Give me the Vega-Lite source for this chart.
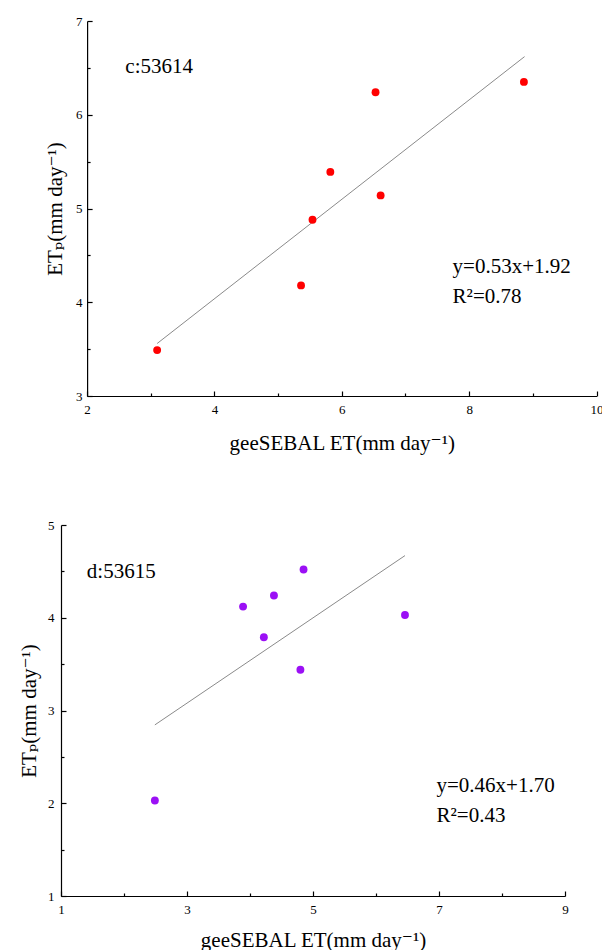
{
  "$schema": "https://vega.github.io/schema/vega-lite/v6.json",
  "padding": {"left": 18, "top": 15, "right": 0, "bottom": 0},
  "background": "white",
  "spacing": 66,
  "config": {
    "view": {"stroke": null},
    "font": "Liberation Serif, Times New Roman, DejaVu Serif, serif",
    "text": {"font": "Liberation Serif, Times New Roman, DejaVu Serif, serif"},
    "axis": {
      "grid": false,
      "domainColor": "#000000",
      "domainWidth": 1.2,
      "tickColor": "#000000",
      "tickWidth": 1.2,
      "labelFont": "Liberation Serif, Times New Roman, DejaVu Serif, serif",
      "labelFontSize": 13,
      "labelColor": "#000000",
      "labelOverlap": false,
      "labelFlush": false,
      "titleFont": "Liberation Serif, Times New Roman, DejaVu Serif, serif",
      "titleFontSize": 21,
      "titleFontWeight": "normal",
      "titleColor": "#000000"
    }
  },
  "datasets": {
    "pts_c": [
      {"x": 3.10, "y": 3.49},
      {"x": 5.36, "y": 4.18},
      {"x": 5.54, "y": 4.88},
      {"x": 5.82, "y": 5.39},
      {"x": 6.61, "y": 5.14},
      {"x": 6.53, "y": 6.24},
      {"x": 8.86, "y": 6.35}
    ],
    "fit_c": [
      {"x": 3.10, "y": 3.56},
      {"x": 8.87, "y": 6.62}
    ],
    "lbl_c": [
      {"x": 2.60, "y": 6.51, "t": "c:53614"},
      {"x": 7.74, "y": 4.38, "t": "y=0.53x+1.92"},
      {"x": 7.74, "y": 4.06, "t": "R²=0.78"}
    ],
    "pts_d": [
      {"x": 2.49, "y": 2.03},
      {"x": 3.89, "y": 4.12},
      {"x": 4.22, "y": 3.79},
      {"x": 4.38, "y": 4.24},
      {"x": 4.80, "y": 3.44},
      {"x": 4.85, "y": 4.52},
      {"x": 6.46, "y": 4.03}
    ],
    "fit_d": [
      {"x": 2.49, "y": 2.845},
      {"x": 6.46, "y": 4.67}
    ],
    "lbl_d": [
      {"x": 1.41, "y": 4.49, "t": "d:53615"},
      {"x": 6.96, "y": 2.19, "t": "y=0.46x+1.70"},
      {"x": 6.96, "y": 1.86, "t": "R²=0.43"}
    ]
  },
  "vconcat": [
    {
      "width": 535.5,
      "height": 375,
      "encoding": {
        "x": {
          "field": "x", "type": "quantitative",
          "scale": {"domain": [2, 10], "range": [26.1, 535.5], "nice": false, "zero": false},
          "axis": {
            "values": [2, 3, 4, 5, 6, 7, 8, 9, 10],
            "labelExpr": "datum.value % 2 === 0 ? format(datum.value, 'd') : ''",
            "tickSize": {"condition": {"test": "datum.value % 2 === 0", "value": -5}, "value": -3},
            "labelPadding": 12,
            "title": "geeSEBAL ET(mm day⁻¹)",
            "titlePadding": 14
          }
        },
        "y": {
          "field": "y", "type": "quantitative",
          "scale": {"domain": [3, 7], "nice": false, "zero": false},
          "axis": {
            "values": [3, 3.5, 4, 4.5, 5, 5.5, 6, 6.5, 7],
            "labelExpr": "datum.value % 1 === 0 ? format(datum.value, 'd') : ''",
            "tickSize": {"condition": {"test": "datum.value % 1 === 0", "value": -5}, "value": -3},
            "labelPadding": 10,
            "offset": -26.1,
            "title": "ETₚ(mm day⁻¹)",
            "titlePadding": 10
          }
        }
      },
      "layer": [
        {
          "data": {"name": "fit_c"},
          "mark": {"type": "line", "color": "#8a8a8a", "strokeWidth": 1}
        },
        {
          "data": {"name": "pts_c"},
          "mark": {"type": "circle", "color": "#ff0000", "size": 62, "opacity": 1}
        },
        {
          "data": {"name": "lbl_c"},
          "mark": {"type": "text", "align": "left", "baseline": "middle", "fontSize": 21, "font": "Liberation Serif, Times New Roman, DejaVu Serif, serif", "color": "#000000"},
          "encoding": {"text": {"field": "t"}}
        }
      ]
    },
    {
      "width": 504,
      "height": 371,
      "encoding": {
        "x": {
          "field": "x", "type": "quantitative",
          "scale": {"domain": [1, 9], "nice": false, "zero": false},
          "axis": {
            "values": [1, 2, 3, 4, 5, 6, 7, 8, 9],
            "labelExpr": "datum.value % 2 === 1 ? format(datum.value, 'd') : ''",
            "tickSize": {"condition": {"test": "datum.value % 2 === 1", "value": -5}, "value": -3},
            "labelPadding": 12,
            "title": "geeSEBAL ET(mm day⁻¹)",
            "titlePadding": 11
          }
        },
        "y": {
          "field": "y", "type": "quantitative",
          "scale": {"domain": [1, 5], "nice": false, "zero": false},
          "axis": {
            "values": [1, 1.5, 2, 2.5, 3, 3.5, 4, 4.5, 5],
            "labelExpr": "datum.value % 1 === 0 ? format(datum.value, 'd') : ''",
            "tickSize": {"condition": {"test": "datum.value % 1 === 0", "value": -5}, "value": -3},
            "labelPadding": 12,
            "title": "ETₚ(mm day⁻¹)",
            "titlePadding": 8
          }
        }
      },
      "layer": [
        {
          "data": {"name": "fit_d"},
          "mark": {"type": "line", "color": "#8a8a8a", "strokeWidth": 1}
        },
        {
          "data": {"name": "pts_d"},
          "mark": {"type": "circle", "color": "#9b10f5", "size": 62, "opacity": 1}
        },
        {
          "data": {"name": "lbl_d"},
          "mark": {"type": "text", "align": "left", "baseline": "middle", "fontSize": 21, "font": "Liberation Serif, Times New Roman, DejaVu Serif, serif", "color": "#000000"},
          "encoding": {"text": {"field": "t"}}
        }
      ]
    }
  ]
}
